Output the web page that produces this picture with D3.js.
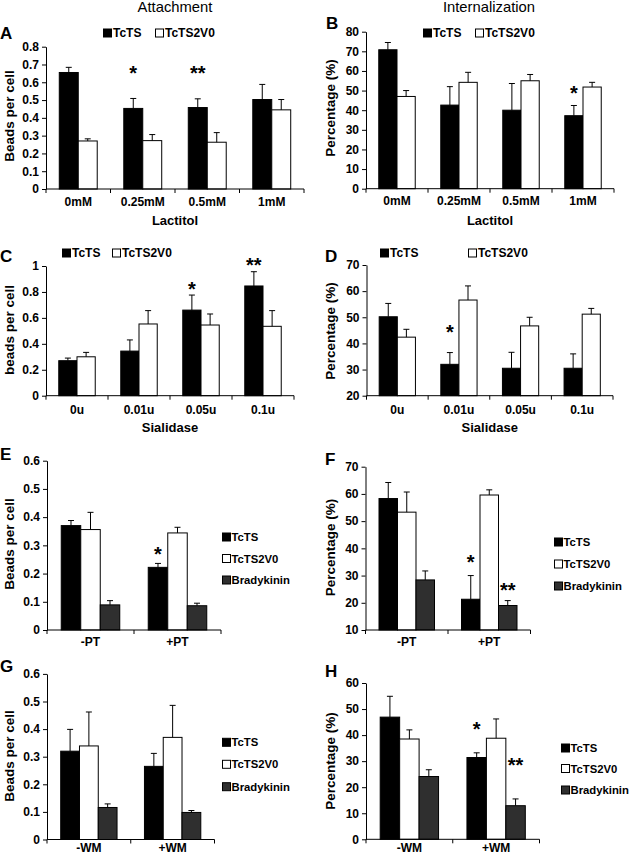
<!DOCTYPE html>
<html><head><meta charset="utf-8">
<script src="https://cdn.jsdelivr.net/npm/d3@7"></script>
<style>
body{margin:0;background:#fff}
svg{display:block}
text{font-family:"Liberation Sans",Arial,sans-serif}
</style>
</head><body>
<svg id="chart" width="630" height="857"></svg>
<script>
// ---------------- DATA ----------------
const seriesNames2 = ["TcTS", "TcTS2V0"];
const seriesNames3 = ["TcTS", "TcTS2V0", "Bradykinin"];

const lactitolCats = ["0mM", "0.25mM", "0.5mM", "1mM"];
const sialidaseCats = ["0u", "0.01u", "0.05u", "0.1u"];
const ptCats = ["-PT", "+PT"];
const wmCats = ["-WM", "+WM"];

// A: attachment, lactitol (beads per cell)
const aTcTS = [0.655, 0.453, 0.458, 0.503];
const aTcTSErr = [0.029, 0.056, 0.049, 0.085];
const aV0 = [0.27, 0.272, 0.263, 0.445];
const aV0Err = [0.012, 0.034, 0.054, 0.058];
const aStars = [{cat: "0.25mM", s: 0, level: 0.675, text: "*"}, {cat: "0.5mM", s: 0, level: 0.675, text: "**"}];

// B: internalization, lactitol (%)
const bTcTS = [70.8, 42.6, 40.0, 37.2];
const bTcTSErr = [3.7, 9.4, 13.6, 5.2];
const bV0 = [47.0, 54.2, 55.0, 51.8];
const bV0Err = [3.0, 5.1, 3.2, 2.4];
const bStars = [{cat: "1mM", s: 0, level: 50.8, text: "*"}];

// C: attachment, sialidase
const cTcTS = [0.27, 0.344, 0.66, 0.846];
const cTcTSErr = [0.02, 0.086, 0.116, 0.11];
const cV0 = [0.30, 0.553, 0.545, 0.535];
const cV0Err = [0.034, 0.103, 0.085, 0.121];
const cStars = [{cat: "0.05u", s: 0, level: 0.853, text: "*"}, {cat: "0.1u", s: 0, level: 1.04, text: "**"}];

// D: internalization, sialidase
const dTcTS = [50.2, 32.0, 30.5, 30.5];
const dTcTSErr = [5.1, 4.5, 6.1, 5.5];
const dV0 = [42.4, 56.6, 46.7, 51.2];
const dV0Err = [3.0, 5.4, 3.3, 2.2];
const dStars = [{cat: "0.01u", s: 0, level: 45.8, text: "*"}];

// E: attachment, PT
const eTcTS = [0.37, 0.222];
const eTcTSErr = [0.018, 0.014];
const eV0 = [0.356, 0.344];
const eV0Err = [0.061, 0.02];
const eBrady = [0.089, 0.086];
const eBradyErr = [0.015, 0.009];
const eStars = [{cat: "+PT", s: 0, level: 0.284, text: "*"}];

// F: internalization, PT
const fTcTS = [58.3, 21.3];
const fTcTSErr = [5.9, 8.7];
const fV0 = [53.3, 59.6];
const fV0Err = [7.4, 1.9];
const fBrady = [28.4, 19.0];
const fBradyErr = [3.3, 1.8];
const fStars = [{cat: "+PT", s: 0, level: 36.6, text: "*"}, {cat: "+PT", s: 2, level: 26.3, text: "**"}];

// G: attachment, WM
const gTcTS = [0.32, 0.265];
const gTcTSErr = [0.079, 0.047];
const gV0 = [0.339, 0.37];
const gV0Err = [0.123, 0.116];
const gBrady = [0.116, 0.098];
const gBradyErr = [0.013, 0.007];
const gStars = [];

// H: internalization, WM
const hTcTS = [46.9, 31.4];
const hTcTSErr = [8.0, 1.8];
const hV0 = [38.5, 38.8];
const hV0Err = [3.5, 7.4];
const hBrady = [24.1, 12.9];
const hBradyErr = [2.6, 2.6];
const hStars = [{cat: "+WM", s: 0, level: 44, text: "*"}, {cat: "+WM", s: 2, level: 30.2, text: "**"}];

// ---------------- STYLE / LAYOUT ----------------
const seriesFill = {"TcTS": "#000", "TcTS2V0": "#fff", "Bradykinin": "#2f2f2f"};
const FONT_TICK = 12, FONT_LEG_H = 12, FONT_LEG_V = 11.3, FONT_AX = 13.5, FONT_LET = 17;

const panels = [
  {letter: "A", lx: 0, ly: 39.3, cats: lactitolCats, names: seriesNames2,
   vals: [aTcTS, aV0], errs: [aTcTSErr, aV0Err], stars: aStars,
   x0: 46, x1: 304, yTop: 46.7, yBot: 189, domain: [0, 0.8], step: 0.1, pad: 0.7,
   ylab: "Beads per cell", ylx: 14, yly: 116, xlab: "Lactitol", xly: 225, labOff: 12.3,
   legend: {type: "h", xs: [103, 155], y: 33}},
  {letter: "B", lx: 326, ly: 28.5, cats: lactitolCats, names: seriesNames2,
   vals: [bTcTS, bV0], errs: [bTcTSErr, bV0Err], stars: bStars,
   x0: 366, x1: 614, yTop: 31.7, yBot: 188.7, domain: [0, 80], step: 10, pad: 0.7,
   ylab: "Percentage (%)", ylx: 335, yly: 108, xlab: "Lactitol", xly: 225, labOff: 12.3,
   legend: {type: "h", xs: [423, 475], y: 33}},
  {letter: "C", lx: 0, ly: 261.7, cats: sialidaseCats, names: seriesNames2,
   vals: [cTcTS, cV0], errs: [cTcTSErr, cV0Err], stars: cStars,
   x0: 46, x1: 294, yTop: 266, yBot: 395.7, domain: [0, 1], step: 0.2, pad: 0.7,
   ylab: "beads per cell", ylx: 14, yly: 330, xlab: "Sialidase", xly: 431.7, labOff: 14,
   legend: {type: "h", xs: [62, 112], y: 253}},
  {letter: "D", lx: 325, ly: 261.7, cats: sialidaseCats, names: seriesNames2,
   vals: [dTcTS, dV0], errs: [dTcTSErr, dV0Err], stars: dStars,
   x0: 366.5, x1: 613, yTop: 265, yBot: 395.7, domain: [20, 70], step: 10, pad: 0.7,
   ylab: "Percentage (%)", ylx: 335, yly: 331, xlab: "Sialidase", xly: 431.7, labOff: 14,
   legend: {type: "h", xs: [380, 468], y: 253}},
  {letter: "E", lx: 0, ly: 460, cats: ptCats, names: seriesNames3,
   vals: [eTcTS, eV0, eBrady], errs: [eTcTSErr, eV0Err, eBradyErr], stars: eStars,
   x0: 47, x1: 221, yTop: 460.7, yBot: 630, domain: [0, 0.6], step: 0.1, pad: 0.73,
   ylab: "Beads per cell", ylx: 14, yly: 544, labOff: 11.7,
   legend: {type: "v", x: 222, ys: [537, 558.5, 580]}},
  {letter: "F", lx: 325, ly: 465, cats: ptCats, names: seriesNames3,
   vals: [fTcTS, fV0, fBrady], errs: [fTcTSErr, fV0Err, fBradyErr], stars: fStars,
   x0: 365.5, x1: 530.5, yTop: 466.7, yBot: 630, domain: [10, 70], step: 10, pad: 0.73,
   ylab: "Percentage (%)", ylx: 335, yly: 547.5, labOff: 11.7,
   legend: {type: "v", x: 554, ys: [542, 564, 586]}},
  {letter: "G", lx: 0, ly: 671.7, cats: wmCats, names: seriesNames3,
   vals: [gTcTS, gV0, gBrady], errs: [gTcTSErr, gV0Err, gBradyErr], stars: gStars,
   x0: 47, x1: 214.5, yTop: 673.9, yBot: 839.5, domain: [0, 0.6], step: 0.1, pad: 0.73,
   ylab: "Beads per cell", ylx: 14, yly: 756, labOff: 8.5,
   legend: {type: "v", x: 222, ys: [742.3, 764.3, 786.7]}},
  {letter: "H", lx: 325, ly: 676.7, cats: wmCats, names: seriesNames3,
   vals: [hTcTS, hV0, hBrady], errs: [hTcTSErr, hV0Err, hBradyErr], stars: hStars,
   x0: 366, x1: 539.5, yTop: 683, yBot: 839.3, domain: [0, 60], step: 10, pad: 0.73,
   ylab: "Percentage (%)", ylx: 335, yly: 761, labOff: 8,
   legend: {type: "v", x: 561, ys: [748, 768.5, 790]}}
];

const svg = d3.select("#chart");

// Column titles
svg.append("text").attr("x", 175).attr("y", 12).attr("text-anchor", "middle")
  .attr("font-size", 14.8).text("Attachment");
svg.append("text").attr("x", 489).attr("y", 12).attr("text-anchor", "middle")
  .attr("font-size", 14.8).text("Internalization");

const fmt = v => String(+v.toFixed(2));

function drawPanel(p) {
  const g = svg.append("g");
  const x = d3.scaleBand().domain(p.cats).range([p.x0, p.x1]).paddingInner(0).paddingOuter(0);
  const xs = d3.scaleBand().domain(d3.range(p.names.length)).range([0, x.bandwidth()])
    .paddingInner(0).paddingOuter(p.pad);
  const y = d3.scaleLinear().domain(p.domain).range([p.yBot, p.yTop]);
  const ticks = d3.range(p.domain[0], p.domain[1] + p.step / 2, p.step).map(v => +v.toFixed(4));

  // Y axis
  const ya = g.append("g").attr("transform", `translate(${p.x0},0)`)
    .call(d3.axisLeft(y).tickValues(ticks).tickFormat(fmt).tickSize(4).tickSizeOuter(0).tickPadding(3));
  ya.attr("font-family", null).attr("font-size", null);
  ya.selectAll("text").attr("font-size", FONT_TICK).attr("font-weight", "bold").attr("fill", "#000");
  ya.selectAll("line,path").attr("stroke", "#000");

  // bars and error bars
  p.names.forEach((name, si) => {
    const rows = p.cats.map((c, i) => ({c, v: p.vals[si][i], e: p.errs[si][i]}));
    g.selectAll(null).data(rows).enter().append("rect")
      .attr("x", d => x(d.c) + xs(si))
      .attr("width", xs.bandwidth())
      .attr("y", d => y(d.v))
      .attr("height", d => y(p.domain[0]) - y(d.v))
      .attr("fill", seriesFill[name])
      .attr("stroke", "#000").attr("stroke-width", 1);
    const cx = d => x(d.c) + xs(si) + xs.bandwidth() / 2;
    g.selectAll(null).data(rows).enter().append("line")
      .attr("x1", cx).attr("x2", cx)
      .attr("y1", d => y(d.v)).attr("y2", d => y(d.v + d.e))
      .attr("stroke", "#000").attr("stroke-width", 1);
    g.selectAll(null).data(rows).enter().append("line")
      .attr("x1", d => cx(d) - 3).attr("x2", d => cx(d) + 3)
      .attr("y1", d => y(d.v + d.e)).attr("y2", d => y(d.v + d.e))
      .attr("stroke", "#000").attr("stroke-width", 1);
  });

  // X axis line, boundary ticks, category labels
  g.append("line").attr("x1", p.x0).attr("x2", p.x1).attr("y1", p.yBot).attr("y2", p.yBot)
    .attr("stroke", "#000");
  const bounds = p.cats.map(c => x(c)).concat([p.x1]);
  g.selectAll(null).data(bounds).enter().append("line")
    .attr("x1", d => d).attr("x2", d => d).attr("y1", p.yBot).attr("y2", p.yBot + 4)
    .attr("stroke", "#000");
  g.selectAll(null).data(p.cats).enter().append("text")
    .attr("x", c => x(c) + x.bandwidth() / 2)
    .attr("y", p.yBot + p.labOff + FONT_TICK * 0.36)
    .attr("text-anchor", "middle").attr("font-size", FONT_TICK).attr("font-weight", "bold")
    .text(c => c);

  // Stars
  g.selectAll(null).data(p.stars).enter().append("text")
    .attr("x", d => x(d.cat) + xs(d.s) + xs.bandwidth() / 2)
    .attr("y", d => y(d.level) + 20 * 0.55)
    .attr("text-anchor", "middle").attr("font-size", 20).attr("font-weight", "bold")
    .text(d => d.text);

  // Axis titles
  g.append("text").attr("transform", `translate(${p.ylx},${p.yly}) rotate(-90)`)
    .attr("text-anchor", "middle").attr("font-size", FONT_AX).attr("font-weight", "bold")
    .text(p.ylab);
  if (p.xlab) {
    g.append("text").attr("x", (p.x0 + p.x1) / 2).attr("y", p.xly)
      .attr("text-anchor", "middle").attr("font-size", 13).attr("font-weight", "bold")
      .text(p.xlab);
  }

  // Panel letter
  g.append("text").attr("x", p.lx).attr("y", p.ly).attr("font-size", FONT_LET)
    .attr("font-weight", "bold").text(p.letter);

  // Legend
  const L = p.legend;
  const fs = L.type === "h" ? FONT_LEG_H : FONT_LEG_V;
  p.names.forEach((name, si) => {
    const lx = L.type === "h" ? L.xs[si] : L.x;
    const ly = L.type === "h" ? L.y : L.ys[si];
    g.append("rect").attr("x", lx + 0.5).attr("y", ly - 4).attr("width", 8).attr("height", 8)
      .attr("fill", seriesFill[name]).attr("stroke", "#000");
    g.append("text").attr("x", lx + (L.type === "h" ? 10 : 9.5)).attr("y", ly + fs * 0.36)
      .attr("font-size", fs).attr("font-weight", "bold").text(name);
  });
}

panels.forEach(drawPanel);
</script>
</body></html>
